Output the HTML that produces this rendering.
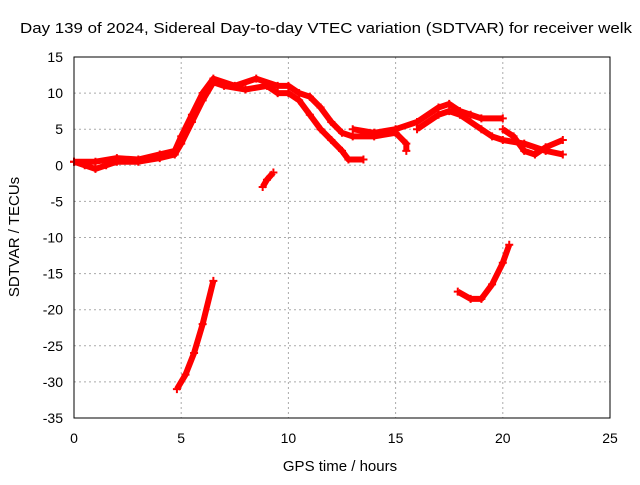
<!DOCTYPE html>
<html><head><meta charset="utf-8"><style>
body{margin:0;background:#fff;}
svg text{font-family:"Liberation Sans",sans-serif;font-size:14px;fill:#000;}
</style></head><body>
<svg id="chart" width="640" height="480">
<text x="20" y="33" textLength="612" lengthAdjust="spacingAndGlyphs" style="font-size:15px">Day 139 of 2024, Sidereal Day-to-day VTEC variation (SDTVAR) for receiver welk</text>
<g id="grid"></g>
<g id="marks"></g>
<rect x="74" y="57" width="536" height="361" fill="none" stroke="#000"/>
<g id="ticks"></g>
<text x="340" y="471" text-anchor="middle" style="font-size:15px">GPS time / hours</text>
<text transform="translate(19,237) rotate(-90)" text-anchor="middle" style="font-size:15px">SDTVAR / TECUs</text>
</svg>
<script>
const xTicks=[0,5,10,15,20,25];
const yTicks=[15,10,5,0,-5,-10,-15,-20,-25,-30,-35];
const track1=[[0,0.5],[0.5,0],[1,-0.5],[1.5,0],[2,0.5],[3,0.5],[4,1],[4.7,1.5],[5,3],[5.5,6],[6,9],[6.5,11.5],[7,11],[8,10.5],[9,11],[9.5,10],[10,10],[10.5,9],[11,7],[11.5,5],[12,3.5],[12.5,2],[12.8,0.8],[13.5,0.8]];
const track2=[[0,0.5],[1,0.5],[2,1],[3,0.8],[4,1.5],[4.7,2],[5,4],[5.5,7],[6,10],[6.5,12],[7.5,11],[8.5,12],[9.5,11],[10,11],[10.5,10],[11,9.5],[11.5,8],[12,6],[12.5,4.5],[13,4],[14,4],[15,4.5],[15.5,3],[15.5,2]];
const track3=[[13,5],[14,4.5],[15,5],[16,6],[17,8],[17.5,8.5],[18,7.5],[18.5,7],[19,6.5],[20,6.5]];
const track4=[[16,5],[17,7],[17.5,7.5],[18,7],[19,5],[19.5,4],[20,3.5],[21,3],[22,2],[22.8,1.5]];
const track5=[[20,5],[20.5,4],[21,2],[21.5,1.5],[22,2.5],[22.8,3.5]];
const track6=[[8.8,-3],[9,-2],[9.3,-1]];
const track7=[[4.8,-31],[5.2,-29],[5.6,-26],[6,-22],[6.5,-16]];
const track8=[[17.9,-17.5],[18.5,-18.5],[19,-18.5],[19.5,-16.5],[20,-13.5],[20.3,-11]];
const tracks=[track1,track2,track3,track4,track5,track6,track7,track8];
const X=v=>74+v*(536/25);
const Y=v=>57+(15-v)*(361/50);
const ns="http://www.w3.org/2000/svg";
const grid=document.getElementById('grid'),ticks=document.getElementById('ticks'),marks=document.getElementById('marks');
function mk(tag,attrs,parent){const e=document.createElementNS(ns,tag);for(const k in attrs)e.setAttribute(k,attrs[k]);parent.appendChild(e);return e;}
xTicks.forEach(t=>{
 if(t>0&&t<25){const g=mk('line',{x1:X(t),x2:X(t),y1:57,y2:418,stroke:'#aaa','stroke-dasharray':'2,3'},grid);
 
 }
 const l=mk('text',{x:X(t),y:443,'text-anchor':'middle'},ticks);l.textContent=t;
 
 
});
yTicks.forEach(t=>{
 if(t<15&&t>-35){const g=mk('line',{x1:74,x2:610,y1:Y(t),y2:Y(t),stroke:'#aaa','stroke-dasharray':'2,3'},grid);
 
 }
 const l=mk('text',{x:63,y:Y(t)+5,'text-anchor':'end'},ticks);l.textContent=t;
 
 
});
tracks.forEach((tr,i)=>{
 const p=mk('polyline',{points:tr.map(d=>X(d[0])+','+Y(d[1])).join(' '),fill:'none',stroke:'#f00','stroke-width':6,'stroke-linejoin':'round'},marks);
 
 
 tr.forEach(d=>{const x=X(d[0]),y=Y(d[1]);
  const m=mk('path',{d:`M${x-4},${y}H${x+4}M${x},${y-4}V${y+4}`,stroke:'#f00','stroke-width':2},marks);
  
  });
});
</script>
</body></html>
